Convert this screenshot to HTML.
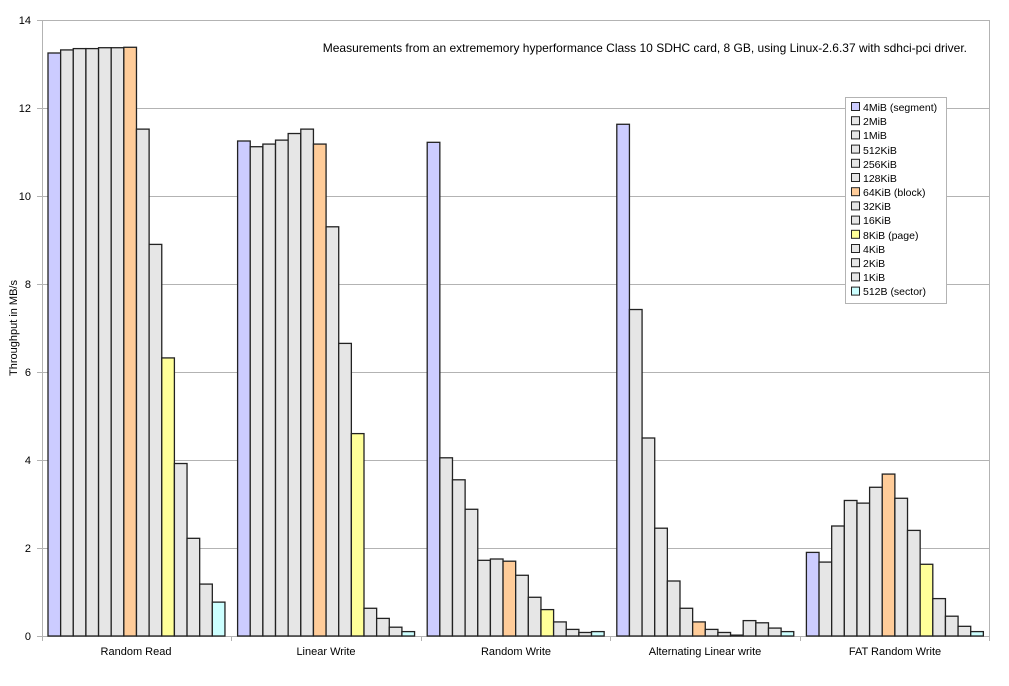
<!DOCTYPE html>
<html><head><meta charset="utf-8"><style>body{margin:0;background:#fff}svg{display:block;font-family:"Liberation Sans",sans-serif}</style></head><body>
<svg id="s" width="1009" height="686" xmlns="http://www.w3.org/2000/svg">
<g stroke="#b3b3b3" stroke-width="1">
<line x1="42" y1="20.5" x2="990" y2="20.5"/><line x1="42" y1="108.5" x2="990" y2="108.5"/><line x1="42" y1="196.5" x2="990" y2="196.5"/><line x1="42" y1="284.5" x2="990" y2="284.5"/><line x1="42" y1="372.5" x2="990" y2="372.5"/><line x1="42" y1="460.5" x2="990" y2="460.5"/><line x1="42" y1="548.5" x2="990" y2="548.5"/><line x1="42" y1="636.5" x2="990" y2="636.5"/>
<line x1="42.5" y1="20" x2="42.5" y2="641"/><line x1="989.5" y1="20" x2="989.5" y2="636"/>
<line x1="37" y1="20.5" x2="42" y2="20.5"/><line x1="37" y1="108.5" x2="42" y2="108.5"/><line x1="37" y1="196.5" x2="42" y2="196.5"/><line x1="37" y1="284.5" x2="42" y2="284.5"/><line x1="37" y1="372.5" x2="42" y2="372.5"/><line x1="37" y1="460.5" x2="42" y2="460.5"/><line x1="37" y1="548.5" x2="42" y2="548.5"/><line x1="37" y1="636.5" x2="42" y2="636.5"/>
<line x1="231.5" y1="636" x2="231.5" y2="641"/><line x1="421.5" y1="636" x2="421.5" y2="641"/><line x1="610.5" y1="636" x2="610.5" y2="641"/><line x1="800.5" y1="636" x2="800.5" y2="641"/><line x1="989.5" y1="636" x2="989.5" y2="641"/>
</g>
<g id="bars" stroke="#222" stroke-width="1.3"></g>
<g font-size="11" fill="#000" text-anchor="end">
<text x="31" y="24">14</text><text x="31" y="112">12</text><text x="31" y="200">10</text><text x="31" y="288">8</text><text x="31" y="376">6</text><text x="31" y="464">4</text><text x="31" y="552">2</text><text x="31" y="640">0</text>
</g>
<g font-size="11" text-anchor="middle">
<text x="136" y="655">Random Read</text><text x="326" y="655">Linear Write</text><text x="516" y="655">Random Write</text><text x="705" y="655">Alternating Linear write</text><text x="895" y="655">FAT Random Write</text>
</g>
<text x="17" y="328" font-size="11" text-anchor="middle" transform="rotate(-90 17 328)">Throughput in MB/s</text>
<text x="967" y="52" font-size="12" text-anchor="end">Measurements from an extrememory hyperformance Class 10 SDHC card, 8 GB, using Linux-2.6.37 with sdhci-pci driver.</text>
<rect x="845.5" y="97.5" width="101" height="206" fill="#fff" stroke="#b3b3b3"/>
<g id="leg" stroke="#222"></g>
<g font-size="10.5">
<text x="863" y="111">4MiB (segment)</text><text x="863" y="125">2MiB</text><text x="863" y="139">1MiB</text><text x="863" y="154">512KiB</text><text x="863" y="168">256KiB</text><text x="863" y="182">128KiB</text><text x="863" y="196">64KiB (block)</text><text x="863" y="210">32KiB</text><text x="863" y="224">16KiB</text><text x="863" y="239">8KiB (page)</text><text x="863" y="253">4KiB</text><text x="863" y="267">2KiB</text><text x="863" y="281">1KiB</text><text x="863" y="295">512B (sector)</text>
</g>
</svg>
<script>
var C=["#ccccff","#e6e6e6","#e6e6e6","#e6e6e6","#e6e6e6","#e6e6e6","#ffcc99","#e6e6e6","#e6e6e6","#ffff99","#e6e6e6","#e6e6e6","#e6e6e6","#ccffff"];
var D=[[13.25,13.32,13.35,13.35,13.37,13.37,13.38,11.52,8.9,6.32,3.92,2.22,1.18,0.77],
[11.25,11.12,11.18,11.27,11.42,11.52,11.18,9.3,6.65,4.6,0.63,0.4,0.2,0.1],
[11.22,4.05,3.55,2.88,1.72,1.75,1.7,1.38,0.88,0.6,0.32,0.15,0.08,0.1],
[11.63,7.42,4.5,2.45,1.25,0.63,0.32,0.15,0.08,0.02,0.35,0.3,0.18,0.1],
[1.9,1.68,2.5,3.08,3.02,3.38,3.68,3.13,2.4,1.63,0.85,0.45,0.22,0.1]];
var ns="http://www.w3.org/2000/svg",g=document.getElementById("bars"),w=12.64;
D.forEach(function(r,gi){r.forEach(function(v,i){var x=48+gi*189.6+i*w,h=v*44,e=document.createElementNS(ns,"rect");
e.setAttribute("x",x);e.setAttribute("y",636-h);e.setAttribute("width",w);e.setAttribute("height",h);e.setAttribute("fill",C[i]);g.appendChild(e);});});
var L=document.getElementById("leg");
C.forEach(function(c,i){var e=document.createElementNS(ns,"rect");e.setAttribute("x",851.5);e.setAttribute("y",102.5+i*14.2);e.setAttribute("width",8);e.setAttribute("height",8);e.setAttribute("fill",c);L.appendChild(e);});
</script>
</body></html>
